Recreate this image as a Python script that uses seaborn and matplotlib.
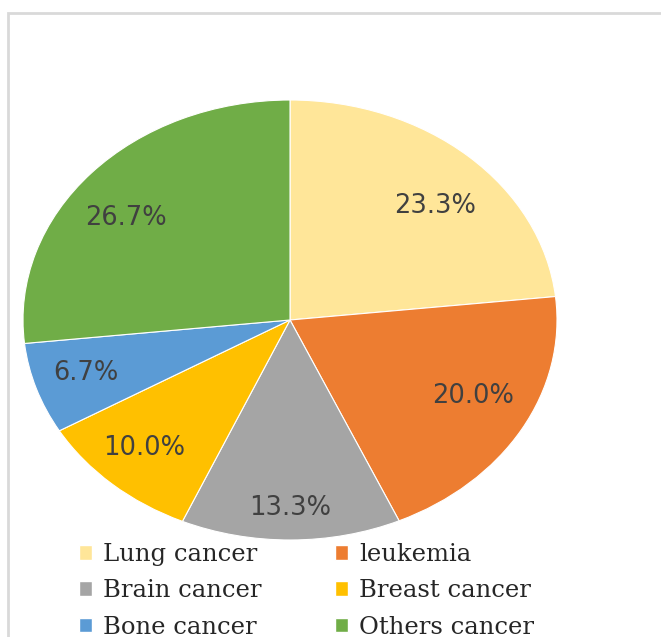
import matplotlib
matplotlib.use("Agg")
import matplotlib.pyplot as plt
from matplotlib.patches import Rectangle, Patch
import seaborn as sns

categories = ["Lung cancer", "leukemia", "Brain cancer", "Breast cancer", "Bone cancer", "Others cancer"]
values = [23.3, 20.0, 13.3, 10.0, 6.7, 26.7]
colors_hex = ["#FFE699", "#ED7D31", "#A5A5A5", "#FFC000", "#5B9BD5", "#70AD47"]

sns.set_theme(style="white")
palette = sns.color_palette(colors_hex)

W, H = 661, 637
fig = plt.figure(figsize=(W / 100, H / 100), dpi=100)
fig.patch.set_facecolor("white")

# outer border (chart area frame)
fig.patches.append(Rectangle((8 / W, -0.1), 1.2, (H - 13) / H + 0.1,
                             transform=fig.transFigure, fill=False,
                             edgecolor="#D9D9D9", linewidth=2))

cx, cy, rx, ry = 290, 320, 267, 220
ax = fig.add_axes([(cx - rx) / W, (H - cy - ry) / H, 2 * rx / W, 2 * ry / H])
wedges, texts, autotexts = ax.pie(
    values, colors=palette, startangle=90, counterclock=False,
    autopct=lambda p: f"{p:.1f}%", pctdistance=0.78,
    wedgeprops=dict(edgecolor="white", linewidth=0.8),
    textprops=dict(color="#404040", fontsize=18.5, family="DejaVu Sans"))
ax.set_aspect("auto")
ax.set_xlim(-1, 1)
ax.set_ylim(-1, 1)
ax.axis("off")

# data-label placement (layout, Excel-like best fit)
label_xy = [(0.545, 0.52), (0.685, -0.345), (0.0, -0.855),
            (-0.545, -0.58), (-0.765, -0.24), (-0.615, 0.465)]
for t, (lx, ly) in zip(autotexts, label_xy):
    t.set_position((lx, ly))

# legend filled row by row (two columns)
order = [0, 2, 4, 1, 3, 5]
handles = [Patch(facecolor=palette[i], edgecolor="white", label=categories[i]) for i in order]
fig.legend(handles=handles, ncol=2, loc="upper left",
           bbox_to_anchor=(79 / W, (H - 543) / H), frameon=False,
           prop=dict(family="DejaVu Serif", size=17.5),
           handlelength=0.55, handleheight=0.55, handletextpad=0.45,
           columnspacing=3.0, labelspacing=0.55, borderaxespad=0, borderpad=0)

fig.savefig("out.png", dpi=100)
